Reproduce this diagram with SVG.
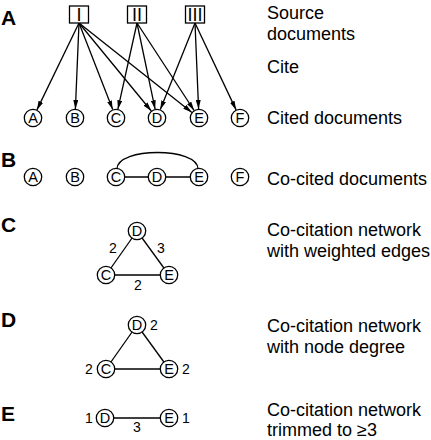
<svg xmlns="http://www.w3.org/2000/svg" width="431" height="440" viewBox="0 0 431 440">
<style>
text{font-family:"Liberation Sans",Arial,sans-serif;fill:#000}
.sec{font-size:21px;font-weight:bold}
.lbl{font-size:18px}
.nt{font-size:14.5px;text-anchor:middle}
.num{font-size:14px;text-anchor:middle}
.box{font-size:18px;text-anchor:middle}
circle,rect{fill:#fff;stroke:#000;stroke-width:1.3}
.e{stroke:#000;stroke-width:1.3;fill:none}
</style>
<defs>
<marker id="ah" markerUnits="userSpaceOnUse" markerWidth="9" markerHeight="5" refX="9" refY="2.5" orient="auto"><path d="M0,0 L9,2.5 L0,5 z" fill="#000"/></marker>
</defs>
<rect width="431" height="440" fill="#fff" style="stroke:none"/>
<g id="section-labels">
<text class="sec" x="1" y="25">A</text>
<text class="sec" x="1" y="167">B</text>
<text class="sec" x="1" y="232">C</text>
<text class="sec" x="1" y="327">D</text>
<text class="sec" x="1" y="421">E</text>
</g>
<g id="descriptions">
<text class="lbl" x="267" y="19">Source</text>
<text class="lbl" x="267" y="40">documents</text>
<text class="lbl" x="267" y="73">Cite</text>
<text class="lbl" x="267" y="124">Cited documents</text>
<text class="lbl" x="267" y="185">Co-cited documents</text>
<text class="lbl" x="267" y="236">Co-citation network</text>
<text class="lbl" x="267" y="257">with weighted edges</text>
<text class="lbl" x="267" y="332">Co-citation network</text>
<text class="lbl" x="267" y="353">with node degree</text>
<text class="lbl" x="267" y="416">Co-citation network</text>
<text class="lbl" x="267" y="436">trimmed to ≥3</text>
</g>
<g id="connectors">
<line class="e" marker-end="url(#ah)" x1="79" y1="23" x2="36.9" y2="109.9"/>
<line class="e" marker-end="url(#ah)" x1="79" y1="23" x2="75.4" y2="109"/>
<line class="e" marker-end="url(#ah)" x1="79" y1="23" x2="112.7" y2="109.6"/>
<line class="e" marker-end="url(#ah)" x1="79" y1="23" x2="151.3" y2="111"/>
<line class="e" marker-end="url(#ah)" x1="79" y1="23" x2="191.9" y2="112.4"/>
<line class="e" marker-end="url(#ah)" x1="137" y1="23" x2="117.9" y2="109.2"/>
<line class="e" marker-end="url(#ah)" x1="137" y1="23" x2="155.1" y2="109.2"/>
<line class="e" marker-end="url(#ah)" x1="137" y1="23" x2="194.1" y2="110.5"/>
<line class="e" marker-end="url(#ah)" x1="195" y1="23" x2="160.3" y2="109.6"/>
<line class="e" marker-end="url(#ah)" x1="195" y1="23" x2="198.6" y2="109"/>
<line class="e" marker-end="url(#ah)" x1="195" y1="23" x2="236.1" y2="109.9"/>
<path class="e" d="M117,169 C117,147 198,147 198,169"/>
<line class="e" x1="116" y1="177" x2="199" y2="177"/>
<line class="e" x1="137" y1="231" x2="106" y2="275"/>
<line class="e" x1="137" y1="231" x2="169" y2="275"/>
<line class="e" x1="106" y1="275" x2="169" y2="275"/>
<line class="e" x1="137" y1="325" x2="106" y2="369"/>
<line class="e" x1="137" y1="325" x2="169" y2="369"/>
<line class="e" x1="106" y1="369" x2="169" y2="369"/>
<line class="e" x1="105" y1="418" x2="169" y2="418"/>
</g>
<g id="source-I"><rect x="69.5" y="6" width="19" height="17"/><text class="box" x="79" y="21">I</text></g>
<g id="source-II"><rect x="127.5" y="6" width="19" height="17"/><text class="box" x="137" y="21">II</text></g>
<g id="source-III"><rect x="185.5" y="6" width="19" height="17"/><text class="box" x="195" y="21">III</text></g>
<g id="a-A"><circle cx="33" cy="118" r="8.7"/><text class="nt" x="33" y="123.2">A</text></g>
<g id="a-B"><circle cx="75" cy="118" r="8.7"/><text class="nt" x="75" y="123.2">B</text></g>
<g id="a-C"><circle cx="116" cy="118" r="8.7"/><text class="nt" x="116" y="123.2">C</text></g>
<g id="a-D"><circle cx="157" cy="118" r="8.7"/><text class="nt" x="157" y="123.2">D</text></g>
<g id="a-E"><circle cx="199" cy="118" r="8.7"/><text class="nt" x="199" y="123.2">E</text></g>
<g id="a-F"><circle cx="240" cy="118" r="8.7"/><text class="nt" x="240" y="123.2">F</text></g>
<g id="b-A"><circle cx="33" cy="177" r="8.7"/><text class="nt" x="33" y="182.2">A</text></g>
<g id="b-B"><circle cx="75" cy="177" r="8.7"/><text class="nt" x="75" y="182.2">B</text></g>
<g id="b-C"><circle cx="116" cy="177" r="8.7"/><text class="nt" x="116" y="182.2">C</text></g>
<g id="b-D"><circle cx="157" cy="177" r="8.7"/><text class="nt" x="157" y="182.2">D</text></g>
<g id="b-E"><circle cx="199" cy="177" r="8.7"/><text class="nt" x="199" y="182.2">E</text></g>
<g id="b-F"><circle cx="240" cy="177" r="8.7"/><text class="nt" x="240" y="182.2">F</text></g>
<g id="c-D"><circle cx="137" cy="231" r="8.7"/><text class="nt" x="137" y="236.2">D</text></g>
<g id="c-C"><circle cx="106" cy="275" r="8.7"/><text class="nt" x="106" y="280.2">C</text></g>
<g id="c-E"><circle cx="169" cy="275" r="8.7"/><text class="nt" x="169" y="280.2">E</text></g>
<g id="c-weights">
<text class="num" x="113" y="253">2</text>
<text class="num" x="161" y="253">3</text>
<text class="num" x="138" y="290">2</text>
</g>
<g id="d-D"><circle cx="137" cy="325" r="8.7"/><text class="nt" x="137" y="330.2">D</text><text class="num" x="154" y="330">2</text></g>
<g id="d-C"><circle cx="106" cy="369" r="8.7"/><text class="nt" x="106" y="374.2">C</text><text class="num" x="89" y="374">2</text></g>
<g id="d-E"><circle cx="169" cy="369" r="8.7"/><text class="nt" x="169" y="374.2">E</text><text class="num" x="186" y="374">2</text></g>
<g id="e-D"><circle cx="105" cy="418" r="8.7"/><text class="nt" x="105" y="423.2">D</text><text class="num" x="89" y="423">1</text></g>
<g id="e-E"><circle cx="169" cy="418" r="8.7"/><text class="nt" x="169" y="423.2">E</text><text class="num" x="186" y="423">1</text></g>
<g id="e-weight"><text class="num" x="137" y="432">3</text></g>
</svg>
